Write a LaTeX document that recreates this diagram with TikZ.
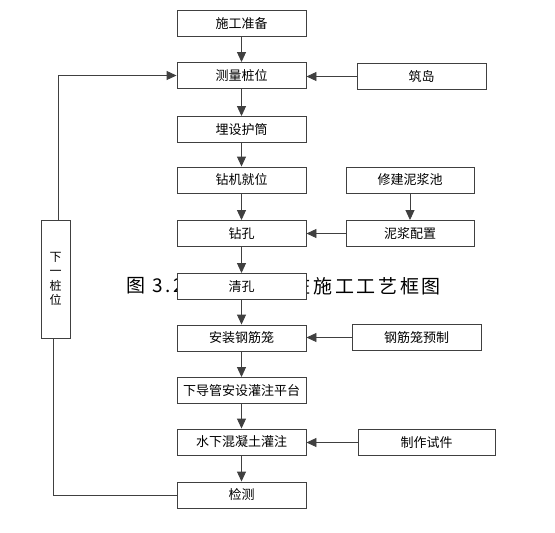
\documentclass[tikz,border=0pt]{standalone}
\usepackage{fontspec}
\newfontfamily\cjk{Noto Sans CJK SC}
\newfontfamily\cjkcap[LetterSpace=14]{Noto Sans CJK SC}
\usetikzlibrary{arrows.meta}

\begin{document}
\begin{tikzpicture}[x=1pt, y=-1pt,
    stepbox/.style={draw=black!75, line width=0.9pt, fill=white,
        minimum width=129pt, minimum height=26pt, inner sep=0pt,
        font=\cjk\fontsize{13}{15}\selectfont},
    captext/.style={inner sep=0pt, font=\cjkcap\fontsize{19}{21}\selectfont},
    flow/.style={draw=black!75, line width=0.9pt, -{Triangle[length=10pt, width=9pt]}},
    link/.style={draw=black!75, line width=0.9pt}]
    \useasboundingbox (0,0) rectangle (555,533);
    \node[captext, anchor=west] (capleft) at (126,286) {图 3.2};
    \node[captext, anchor=east] (capright) at (441,286) {桩施工工艺框图};
    \node[stepbox] (zhunbei) at (241.5,23.5) {施工准备};
    \node[stepbox] (celiang) at (241.5,75.5) {测量桩位};
    \node[stepbox] (hutong) at (241.5,129.5) {埋设护筒};
    \node[stepbox] (jiuwei) at (241.5,180) {钻机就位};
    \node[stepbox] (zuankong) at (241.5,233.5) {钻孔};
    \node[stepbox] (qingkong) at (241.5,286.5) {清孔};
    \node[stepbox] (gangjinlong) at (241.5,338) {安装钢筋笼};
    \node[stepbox] (daoguan) at (241.5,390.5) {下导管安设灌注平台};
    \node[stepbox] (guanzhu) at (241.5,442) {水下混凝土灌注};
    \node[stepbox] (jiance) at (241.5,495) {检测};
    \node[stepbox] (zhudao) at (421.5,76.5) {筑岛};
    \node[stepbox, minimum width=128pt] (nijiangchi) at (410,180) {修建泥浆池};
    \node[stepbox, minimum width=128pt] (nijiang) at (410,233.5) {泥浆配置};
    \node[stepbox] (gangjinyuzhi) at (416.5,337.5) {钢筋笼预制};
    \node[stepbox, minimum width=137pt] (shijian) at (426.5,442.5) {制作试件};
    \node[stepbox, minimum width=29pt, minimum height=118pt, align=center,
        font=\cjk\fontsize{12}{14.5}\selectfont] (xiayi) at (55.5,279) {下\\一\\桩\\位};
    \draw[flow] (zhunbei) -- (celiang);
    \draw[flow] (celiang) -- (hutong);
    \draw[flow] (hutong) -- (jiuwei);
    \draw[flow] (jiuwei) -- (zuankong);
    \draw[flow] (zuankong) -- (qingkong);
    \draw[flow] (qingkong) -- (gangjinlong);
    \draw[flow] (gangjinlong) -- (daoguan);
    \draw[flow] (daoguan) -- (guanzhu);
    \draw[flow] (guanzhu) -- (jiance);
    \draw[flow] (zhudao.west) -- (zhudao.west -| celiang.east);
    \draw[flow] (nijiangchi) -- (nijiang);
    \draw[flow] (nijiang.west) -- (nijiang.west -| zuankong.east);
    \draw[flow] (gangjinyuzhi.west) -- (gangjinyuzhi.west -| gangjinlong.east);
    \draw[flow] (shijian.west) -- (shijian.west -| guanzhu.east);
    \draw[flow] ([xshift=2.5pt]xiayi.north) |- (celiang.west);
    \draw[link] ([xshift=-2.5pt]xiayi.south) |- (jiance.west);
\end{tikzpicture}
\end{document}
